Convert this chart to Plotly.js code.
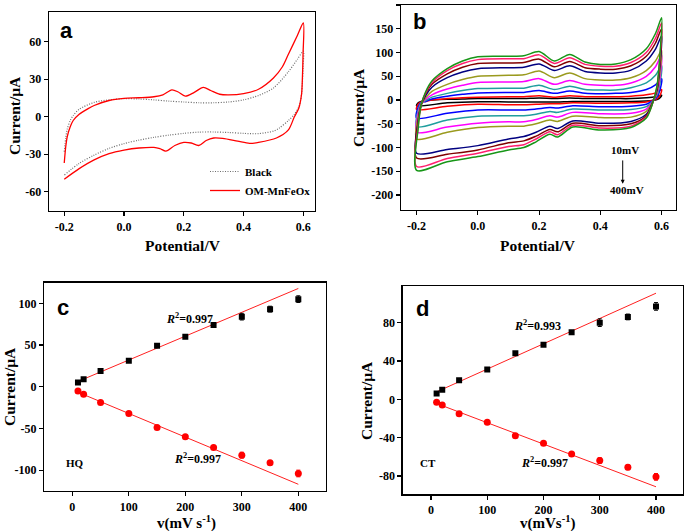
<!DOCTYPE html>
<html><head><meta charset="utf-8">
<script src="https://cdn.plot.ly/plotly-3.0.1.min.js"></script>
<style>html,body{margin:0;padding:0;background:#fff}#chart{width:685px;height:531px}</style>
</head><body><div id="chart"></div>
<script>
// ---------- Panel a data (potential / V, current / uA) ----------
const aRedFwdE = [-0.2,-0.195,-0.19,-0.18,-0.17,-0.15,-0.12,-0.1,-0.05,0,0.05,0.1,0.13,0.16,0.18,0.205,0.235,0.265,0.29,0.32,0.35,0.4,0.45,0.5,0.53,0.55,0.58,0.6];
const aRedFwdI = [-37,-24,-16,-8,-3,2,6.5,9,13,14.7,15.2,16,17.5,21.5,20,16.5,19.5,23.5,21,18,17.5,18.5,22,31,40,50,65,75];
const aRedRevE = [0.599,0.597,0.594,0.585,0.57,0.55,0.51,0.45,0.42,0.38,0.33,0.3,0.275,0.25,0.225,0.2,0.17,0.14,0.12,0.1,0.05,0,-0.05,-0.1,-0.15,-0.2];
const aRedRevI = [50,32,18,7,0,-10.5,-17,-20.5,-21.3,-19.5,-17.3,-17,-19,-23,-21,-20.5,-23,-27.5,-25.5,-24.5,-25,-26.7,-29.5,-34.5,-41.5,-50];
const aBlkFwdE = [-0.2,-0.195,-0.19,-0.18,-0.17,-0.15,-0.1,-0.05,0,0.05,0.1,0.15,0.2,0.25,0.3,0.35,0.4,0.45,0.5,0.55,0.58,0.6];
const aBlkFwdI = [-28,-17,-10,-3,1,6,11.5,13.5,14.5,14.2,13.5,12.5,11.8,11.2,11.2,11.8,13.5,17,23,36,46,52.5];
const aBlkRevE = [0.599,0.597,0.594,0.585,0.57,0.55,0.52,0.5,0.45,0.4,0.35,0.3,0.25,0.2,0.15,0.1,0.05,0,-0.05,-0.1,-0.15,-0.2];
const aBlkRevI = [40,28,18,8,2,-3,-9,-11.5,-13.5,-13.3,-12.6,-12.2,-12.3,-13.3,-14.7,-16.5,-18.7,-21.5,-25.3,-30.7,-37.3,-46.7];
const aNames = ['Black','OM-MnFeOx'];

// ---------- Panel b data ----------
const bFwdE = [-0.2,-0.195,-0.185,-0.17,-0.15,-0.1,-0.05,0,0.1,0.15,0.2,0.25,0.3,0.35,0.4,0.45,0.5,0.55,0.58,0.6];
const bRevE = [0.595,0.585,0.57,0.55,0.5,0.4,0.31,0.26,0.235,0.19,0.15,0.1,0,-0.1,-0.2];
const bRates = ['10','20','50','100','150','200','250','300','350','400'];
const bColors = ['#000000','#ff0000','#0000ff','#1f9e9e','#ff00ff','#9a9a1e','#000080','#800000','#ff1f6e','#179617'];
const bFwd = [
  [-12,-6,-3,-1,0,1.5,2,3,3,3,4,3,4,3,3,3,3,5,7,10],
  [-20,-9,-4,-3,0,3,5,6,7,7,9,6,9,7,7,7,8,11,15,22],
  [-38,-15,-5,-3,2,8,12,15,16,16,20,14,19,14,13,14,16,22,32,45],
  [-56,-22,-6,-1,6,14,20,24,25,25,31,22,29,22,21,21,26,36,52,73],
  [-68,-28,-8,2,11,23,31,37,38,39,45,33,41,33,31,31,36,50,70,95],
  [-82,-35,-10,5,18,33,43,50,52,53,61,47,57,45,42,42,47,62,82,105],
  [-112,-45,-10,10,27,47,59,66,68,69,76,62,72,60,57,57,63,82,107,135],
  [-122,-48,-10,14,33,55,69,77,78,79,86,70,81,68,65,65,72,92,120,150],
  [-140,-55,-10,16,37,62,77,85,87,87,95,77,89,75,71,71,79,100,130,162],
  [-148,-60,-10,18,40,66,82,91,92,93,102,82,96,80,75,76,85,108,140,173]
];
const bRev = [
  [5,1,-1,-2,-3,-3,-3,-4,-4,-4,-4,-4,-3.5,-6,-12],
  [10,3,-1,-4,-6,-7,-6,-8,-8,-9,-10,-10,-9,-13,-20],
  [22,6,-2,-9,-13,-14,-12,-17,-16,-19,-21,-21,-21,-28,-38],
  [36,10,-3,-14,-20,-21,-19,-26,-24,-30,-33,-33,-34,-42,-56],
  [48,14,-4,-19,-28,-29,-26,-36,-33,-41,-46,-46,-49,-57,-68],
  [60,17,-5,-24,-36,-37,-34,-45,-42,-50,-55,-55,-58,-68,-82],
  [76,21,-6,-30,-45,-49,-44,-60,-55,-68,-77,-82,-96,-104,-112],
  [85,24,-7,-33,-50,-54,-49,-67,-62,-76,-86,-90,-105,-114,-122],
  [92,27,-8,-36,-55,-59,-53,-73,-67,-82,-94,-98,-112,-123,-140],
  [100,30,-8,-38,-58,-63,-57,-78,-72,-88,-100,-105,-119,-130,-148]
];

// ---------- Panels c, d data (scan rate mV/s, peak current uA) ----------
const rate = [10,20,50,100,150,200,250,300,350,400];
const hqOx = [5,9,19,31,49,60,74,84,93,105];
const hqOxErr = [1.5,1.5,1.5,1.5,1.5,1.5,2,4,3.5,4];
const hqRed = [-5,-9,-19,-32,-49,-60,-73,-82,-91,-104];
const hqRedErr = [1.5,1.5,1.5,1.5,1.5,1.5,1.5,3.5,2.5,4];
const ctOx = [6,10,20,31,48,57,70,80,86,97];
const ctOxErr = [1.5,1.5,1.5,1.5,1.5,1.5,1.5,4,3,4];
const ctRed = [-3,-6,-15,-24,-38,-46,-57,-64,-71,-81];
const ctRedErr = [1.5,1.5,1.5,1.5,1.5,1.5,1.5,3,2.5,3.5];
const fitMaxRate = 250;
const r2Labels = {cUp:'0.997', cDn:'0.997', dUp:'0.993', dDn:'0.997'};

// tick labels
const tickE = [-0.2,0,0.2,0.4,0.6], tickEtxt = ['-0.2','0.0','0.2','0.4','0.6'];
const tickA = [-60,-30,0,30,60], tickAtxt = ['-60','-30','0','30','60'];
const tickB = [-200,-150,-100,-50,0,50,100,150,200], tickBtxt = ['-200','-150','-100','-50','0','50','100','150','200'];
const tickC = [-100,-50,0,50,100], tickCtxt = ['-100','-50','0','50','100'];
const tickD = [-80,-40,0,40,80], tickDtxt = ['-80','-40','0','40','80'];
const tickV = [0,100,200,300,400], tickVtxt = ['0','100','200','300','400'];

// ---------- build ----------
const SERIF = 'Liberation Serif, Times New Roman, serif';
const SANS = 'Liberation Sans, Arial, sans-serif';
const W = 685, H = 531;
const px = x => x / W, py = y => (H - y) / H;

function linfit(x, y, maxX) {
  const xs = [], ys = [];
  x.forEach((v, i) => { if (v <= maxX) { xs.push(v); ys.push(y[i]); } });
  const n = xs.length, mx = xs.reduce((a,b)=>a+b,0)/n, my = ys.reduce((a,b)=>a+b,0)/n;
  let sxy = 0, sxx = 0;
  xs.forEach((v,i)=>{ sxy += (v-mx)*(ys[i]-my); sxx += (v-mx)*(v-mx); });
  const k = sxy/sxx, b = my - k*mx;
  return [b + k*x[0], b + k*x[x.length-1]];
}

const traces = [];
traces.push({x: aBlkFwdE.concat(aBlkRevE), y: aBlkFwdI.concat(aBlkRevI), xaxis:'x', yaxis:'y', mode:'lines', name: aNames[0],
  line:{color:'#6e6e6e', width:1.2, dash:'1px,1.5px', shape:'spline', smoothing:0.8}});
traces.push({x: aRedFwdE.concat(aRedRevE), y: aRedFwdI.concat(aRedRevI), xaxis:'x', yaxis:'y', mode:'lines', name: aNames[1],
  line:{color:'#ff0000', width:1.3, shape:'spline', smoothing:0.8}});

bFwd.forEach((f, i) => {
  traces.push({x: bFwdE.concat(bRevE), y: f.concat(bRev[i]), xaxis:'x2', yaxis:'y2', mode:'lines', name: bRates[i]+' mV/s',
    showlegend:false, line:{color:bColors[i], width:1.5, shape:'spline', smoothing:0.8}});
});

function ratePanel(xa, ya, ox, oxErr, red, redErr) {
  const fu = linfit(rate, ox, fitMaxRate), fd = linfit(rate, red, fitMaxRate);
  const xe = [rate[0], rate[rate.length-1]];
  traces.push({x: xe, y: fu, xaxis:xa, yaxis:ya, mode:'lines', showlegend:false, line:{color:'#ff2020', width:1}});
  traces.push({x: xe, y: fd, xaxis:xa, yaxis:ya, mode:'lines', showlegend:false, line:{color:'#ff2020', width:1}});
  traces.push({x: rate, y: ox, xaxis:xa, yaxis:ya, mode:'markers', showlegend:false,
    marker:{symbol:'square', size:6, color:'#000'}, error_y:{type:'data', array:oxErr, visible:true, color:'#000', thickness:1, width:2}});
  traces.push({x: rate, y: red, xaxis:xa, yaxis:ya, mode:'markers', showlegend:false,
    marker:{symbol:'circle', size:7, color:'#ff0000'}, error_y:{type:'data', array:redErr, visible:true, color:'#ff0000', thickness:1, width:2}});
}
ratePanel('x3','y3', hqOx, hqOxErr, hqRed, hqRedErr);
ratePanel('x4','y4', ctOx, ctOxErr, ctRed, ctRedErr);

function ax(extra) {
  return Object.assign({showline:true, linecolor:'#000', linewidth:1.3, mirror:true, ticks:'outside', ticklen:4,
    tickwidth:1.2, tickcolor:'#000', showgrid:false, zeroline:false, tickmode:'array',
    tickfont:{family:SERIF, size:12, weight:'bold', color:'#000'}}, extra);
}

const layout = {
  width: W, height: H, margin:{l:0, r:0, t:0, b:0}, paper_bgcolor:'#fff', plot_bgcolor:'#fff',
  font:{family:SERIF, color:'#000'},
  xaxis: ax({anchor:'y', domain:[px(49), px(315)], range:[-0.251, 0.639], tickvals:tickE, ticktext:tickEtxt}),
  yaxis: ax({anchor:'x', domain:[py(211), py(12)], range:[-75.4, 83.8], tickvals:tickA, ticktext:tickAtxt}),
  xaxis2: ax({anchor:'y2', domain:[px(401), px(676)], range:[-0.251, 0.647], tickvals:tickE, ticktext:tickEtxt}),
  yaxis2: ax({anchor:'x2', domain:[py(210), py(5)], range:[-231.5, 200], tickvals:tickB, ticktext:tickBtxt}),
  xaxis3: ax({anchor:'y3', domain:[px(44.3), px(326)], range:[-49.6, 449], tickvals:tickV, ticktext:tickVtxt}),
  yaxis3: ax({anchor:'x3', domain:[py(491), py(282.7)], range:[-125, 124.7], tickvals:tickC, ticktext:tickCtxt}),
  xaxis4: ax({anchor:'y4', domain:[px(402.7), px(683)], range:[-50.3, 448], tickvals:tickV, ticktext:tickVtxt}),
  yaxis4: ax({anchor:'x4', domain:[py(494.3), py(286)], range:[-99.2, 118.3], tickvals:tickD, ticktext:tickDtxt}),
  showlegend: true,
  legend: {x: px(316), xanchor:'right', y: py(205), yanchor:'bottom', bgcolor:'rgba(0,0,0,0)', borderwidth:0,
    font:{family:SERIF, size:11, weight:'bold', color:'#000'}, tracegroupgap:0, itemwidth:30, traceorder:'normal'},
  annotations: []
};

const A = layout.annotations;
function ptxt(text, x, y, size, family, angle) {
  A.push({text:text, xref:'paper', yref:'paper', x:px(x), y:py(y), showarrow:false, xanchor:'center', yanchor:'middle',
    textangle: angle||0, font:{family:family||SERIF, size:size, weight:'bold', color:'#000'}});
}
function dtxt(text, xr, yr, x, y, size) {
  A.push({text:text, xref:xr, yref:yr, x:x, y:y, showarrow:false, xanchor:'center', yanchor:'middle',
    font:{family:SERIF, size:size, weight:'bold', color:'#000'}});
}
// panel letters
ptxt('a', 66, 30, 22, SANS); ptxt('b', 419, 22, 22, SANS); ptxt('c', 63, 307, 22, SANS); ptxt('d', 422, 308, 22, SANS);
// axis titles
ptxt('Current/μA', 15, 116, 15.5, SERIF, -90);
ptxt('Potential/V', 183, 246, 15.5);
ptxt('Current/μA', 358, 108, 15.5, SERIF, -90);
ptxt('Potential/V', 538, 245, 15.5);
ptxt('Current/μA', 9, 387, 15.5, SERIF, -90);
ptxt('v(mV s<sup>-1</sup>)', 186, 522, 15);
ptxt('Current/μA', 366, 400, 15.5, SERIF, -90);
ptxt('v(mVs<sup>-1</sup>)', 547, 522.5, 15);
// panel b annotations
dtxt('10mV', 'x2', 'y2', 0.48, -105, 11);
dtxt('400mV', 'x2', 'y2', 0.487, -189, 11);
A.push({text:'', xref:'x2', yref:'y2', axref:'x2', ayref:'y2', x:0.473, y:-176, ax:0.473, ay:-124,
  showarrow:true, arrowhead:2, arrowsize:0.8, arrowwidth:1, arrowcolor:'#000'});
// panel c, d
dtxt('<i>R</i><sup>2</sup>=' + r2Labels.cUp, 'x3', 'y3', 207, 82, 12);
dtxt('<i>R</i><sup>2</sup>=' + r2Labels.cDn, 'x3', 'y3', 222, -86, 12);
dtxt('HQ', 'x3', 'y3', 5, -91, 11);
dtxt('<i>R</i><sup>2</sup>=' + r2Labels.dUp, 'x4', 'y4', 189, 77, 12);
dtxt('<i>R</i><sup>2</sup>=' + r2Labels.dDn, 'x4', 'y4', 202, -65.5, 12);
dtxt('CT', 'x4', 'y4', -5, -66, 11);

Plotly.newPlot('chart', traces, layout, {staticPlot:true, displayModeBar:false});
</script></body></html>
